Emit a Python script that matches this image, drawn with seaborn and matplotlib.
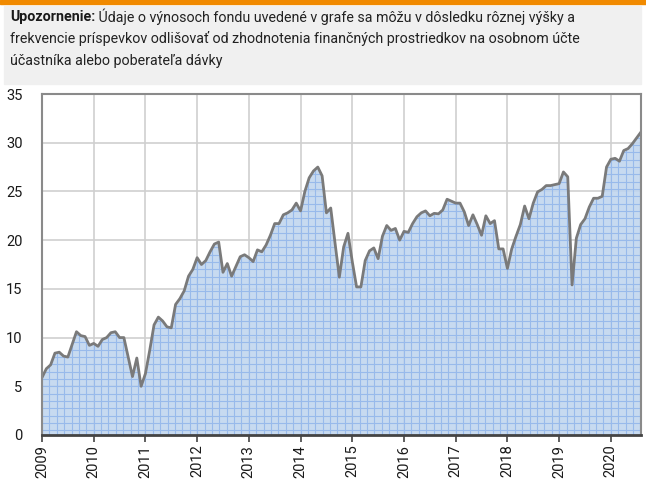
import numpy as np
import pandas as pd
import matplotlib
matplotlib.use("Agg")
import matplotlib.pyplot as plt
import seaborn as sns

# ---- data (monthly values, Jan 2009 onward) ----
start_year = 2009
values = [
    5.9, 6.8, 7.2, 8.4, 8.5, 8.1, 8.0, 9.3, 10.6, 10.2, 10.1, 9.2,          # 2009
    9.4, 9.1, 9.8, 10.0, 10.5, 10.6, 10.0, 10.0, 8.0, 6.0, 7.9, 5.0,        # 2010
    6.3, 8.7, 11.3, 12.1, 11.7, 11.1, 11.0, 13.4, 14.0, 14.8, 16.3, 17.0,   # 2011
    18.2, 17.5, 17.9, 18.8, 19.6, 19.8, 16.7, 17.6, 16.3, 17.3, 18.3, 18.5, # 2012
    18.2, 17.8, 19.0, 18.8, 19.5, 20.5, 21.7, 21.7, 22.6, 22.8, 23.1, 23.8, # 2013
    23.0, 25.0, 26.4, 27.1, 27.5, 26.6, 22.8, 23.3, 19.7, 16.2, 19.3, 20.7, # 2014
    17.8, 15.2, 15.2, 17.9, 18.9, 19.2, 18.1, 20.4, 21.5, 21.0, 21.2, 20.0, # 2015
    20.9, 20.8, 21.7, 22.4, 22.8, 23.0, 22.5, 22.75, 22.7, 23.1, 24.2, 24.0, # 2016
    23.8, 23.8, 22.9, 21.5, 22.6, 21.6, 20.5, 22.5, 21.7, 22.0, 19.1, 19.1, # 2017
    17.1, 19.1, 20.4, 21.6, 23.5, 22.2, 23.8, 24.95, 25.2, 25.6, 25.6, 25.7, # 2018
    25.8, 27.0, 26.5, 15.4, 20.2, 21.6, 22.2, 23.4, 24.3, 24.3, 24.5, 27.5, # 2019
    28.3, 28.4, 28.1, 29.2, 29.4, 29.9, 30.5, 31.1,                         # 2020
]
year_ticks = list(range(2009, 2021))
y_ticks = [0, 5, 10, 15, 20, 25, 30, 35]
note_bold = "Upozornenie:"
note_lines = [
    " Údaje o výnosoch fondu uvedené v grafe sa môžu v dôsledku rôznej výšky a",
    "frekvencie príspevkov odlišovať od zhodnotenia finančných prostriedkov na osobnom účte",
    "účastníka alebo poberateľa dávky",
]

df = pd.DataFrame({"t": start_year + np.arange(len(values)) / 12.0, "v": values})

sns.set_theme(style="white")
plt.rcParams["font.family"] = ["Roboto", "DejaVu Sans"]

W, H = 646, 483
fig = plt.figure(figsize=(W / 100, H / 100), dpi=100)

def fx(px):
    return px / W

def fy(py):
    return 1 - py / H

# orange top bar and grey note box
fig.patches.append(plt.Rectangle((0, fy(4)), 1, 4 / H, transform=fig.transFigure,
                                 color="#F18A00", zorder=0))
fig.patches.append(plt.Rectangle((fx(4), fy(84)), fx(637), 78 / H, transform=fig.transFigure,
                                 color="#F0F0F0", zorder=0))
fs = 10.3
t = fig.text(fx(10), fy(17), note_bold, fontsize=fs, fontweight="bold",
             va="center", ha="left", color="#1a1a1a")
fig.canvas.draw()
bb = t.get_window_extent()
fig.text(bb.x1 / W, fy(17), note_lines[0], fontsize=fs, va="center", ha="left", color="#222222")
fig.text(fx(10), fy(39), note_lines[1], fontsize=fs, va="center", ha="left", color="#222222")
fig.text(fx(10), fy(61), note_lines[2], fontsize=fs, va="center", ha="left", color="#222222")

ax = fig.add_axes([fx(42), fy(435), fx(641) - fx(42), (435 - 94) / H])

x0, x1 = df["t"].iloc[0], df["t"].iloc[-1]
ax.set_xlim(x0, x1)
ax.set_ylim(0, 35)

# main grid
ax.set_xticks(year_ticks)
ax.set_yticks(y_ticks)
ax.grid(True, color="#CFCFCF", linewidth=1.2, zorder=0)

# filled area
poly = ax.fill_between(df["t"], 0, df["v"], color="#C0D5EF", alpha=0.88, linewidth=0, zorder=1)
# fine blue grid pattern inside the area
path = poly.get_paths()[0]
hl = ax.hlines(np.arange(0.5, 35, 0.75), x0, x1, colors="#98BAEB", linewidth=0.8, zorder=2)
vl = ax.vlines(np.arange(x0, x1 + 0.01, 1 / 7), 0, 35, colors="#98BAEB", linewidth=0.8, zorder=2)
for c in (hl, vl):
    c.set_clip_path(path, ax.transData)

sns.lineplot(data=df, x="t", y="v", ax=ax, color="#7A7A7A", linewidth=2.0, zorder=3)

ax.set_xlabel("")
ax.set_ylabel("")
ax.set_xticklabels([str(y) for y in year_ticks], rotation=90, fontsize=10.5, color="#1a1a1a")
ax.set_yticklabels([str(y) for y in y_ticks], fontsize=10.5, color="#1a1a1a")
ax.tick_params(axis="x", which="major", bottom=True, length=5, width=1.2, color="#444444", pad=2)
ax.tick_params(axis="y", left=False, pad=8)

for side in ["top", "right", "left"]:
    ax.spines[side].set_color("#8A8A8A")
    ax.spines[side].set_linewidth(1.5)
ax.spines["bottom"].set_color("#444444")
ax.spines["bottom"].set_linewidth(2.0)
for s in ax.spines.values():
    s.set_zorder(5)

fig.savefig("out.png", dpi=100)
